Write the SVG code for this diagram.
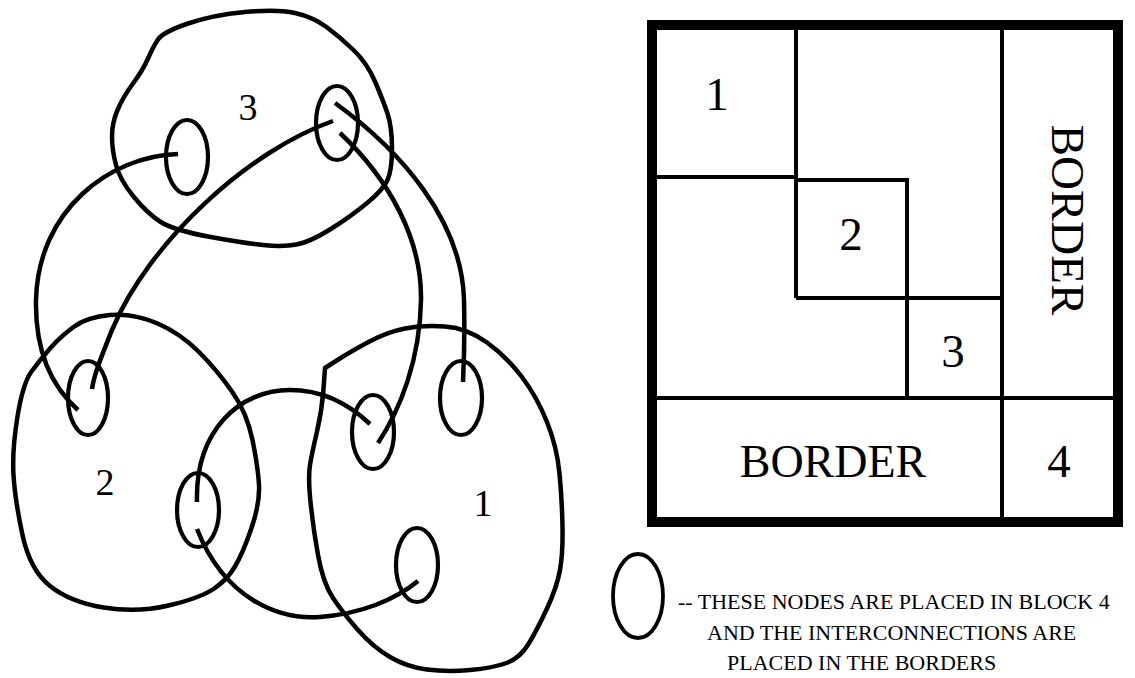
<svg xmlns="http://www.w3.org/2000/svg" width="1135" height="678" viewBox="0 0 1135 678">
<style>
.ln{fill:none;stroke:#000;stroke-width:4.5;stroke-linejoin:round}
.nd{fill:none;stroke:#000;stroke-width:4.2}
.gl{fill:none;stroke:#000;stroke-width:4}
.t{font-family:"Liberation Serif","Times New Roman",serif;fill:#000}
</style>
<rect width="1135" height="678" fill="#fff"/>
<g id="cluster3">
<path class="ln" d="M188,23.5 Q213,15 245,12 Q277,9 295,13 Q313,17 326.5,27 Q340,37 353.5,50 Q367,63 375,81.5 Q383,100 387.5,113.5 Q392,127 392,148.5 Q392,170 387.5,180 Q383,190 366.5,203.5 Q350,217 330,229.5 Q310,242 296.5,244.5 Q283,247 263,245 Q243,243 208,236.5 Q173,230 160,221.5 Q147,213 133.5,196.5 Q120,180 116,165 Q112,150 112,136.5 Q112,123 117.5,110 Q123,97 133,83.5 Q143,70 148,58.5 Q153,47 158,39.5 Q163,32 188,23.5 Z"/>
<text class="t" x="248" y="120" font-size="38" text-anchor="middle">3</text>
</g>
<g id="cluster2">
<path class="ln" d="M110,315 Q133,313 156.5,323 Q180,333 198.5,351.5 Q217,370 232,391.5 Q247,413 252.5,440 Q258,467 259,485 Q260,503 251.5,528 Q243,553 235,566.5 Q227,580 213.5,589 Q200,598 168.5,605.5 Q137,613 103.5,607.5 Q70,602 50,586 Q30,570 22.5,535 Q15,500 13.5,475 Q12,450 17.5,416.5 Q23,383 31.5,371.5 Q40,360 50,348.5 Q60,337 73.5,327 Q87,317 110,315 Z"/>
<text class="t" x="105" y="495" font-size="38" text-anchor="middle">2</text>
</g>
<g id="cluster1">
<path class="ln" d="M325,368 L337.5,360 Q350,352 368.5,342 Q387,332 405,328.5 Q423,325 445,326.5 Q467,328 487,342.5 Q507,357 522,377 Q537,397 547,422 Q557,447 559.5,473.5 Q562,500 562.5,526.5 Q563,553 560,570 Q557,587 547,608.5 Q537,630 528.5,644 Q520,658 506.5,663 Q493,668 470,670 Q447,672 427,669.5 Q407,667 390,657 Q373,647 358,630 Q343,613 333,598 Q323,583 318,555 Q313,527 310.5,502 Q308,477 310,465 Q312,453 317,431.5 Q322,410 323.5,389 Z"/>
<text class="t" x="483" y="516" font-size="38" text-anchor="middle">1</text>
</g>
<g id="node-3a"><ellipse class="nd" cx="187" cy="157" rx="21" ry="37"/></g>
<g id="node-3b"><ellipse class="nd" cx="337" cy="123" rx="21" ry="37"/></g>
<g id="node-2a"><ellipse class="nd" cx="88" cy="398" rx="20" ry="37"/></g>
<g id="node-2b"><ellipse class="nd" cx="198" cy="510" rx="21" ry="37"/></g>
<g id="node-1a"><ellipse class="nd" cx="373" cy="432" rx="21" ry="37"/></g>
<g id="node-1b"><ellipse class="nd" cx="461" cy="398" rx="21" ry="37"/></g>
<g id="node-1c"><ellipse class="nd" cx="417" cy="565" rx="21" ry="37"/></g>
<g id="connectors">
<path class="ln" d="M178,154 C110,156 38,210 36,300 C35,350 50,385 78,410"/>
<path class="ln" d="M333,121 C250,150 150,240 112,330 C100,360 94,375 92,389"/>
<path class="ln" d="M340,133 C390,180 422,240 421,300 C420,360 400,410 378,443"/>
<path class="ln" d="M335,103 C400,150 462,220 464,300 C465,340 464,360 463,382"/>
<path class="ln" d="M197,502 C195,430 240,390 290,390 C325,390 350,405 370,424"/>
<path class="ln" d="M197,529 C225,600 280,620 320,617 C360,614 395,600 418,581"/>
</g>
<g id="block-grid">
<rect x="652" y="25" width="466" height="497" fill="none" stroke="#000" stroke-width="10"/>
<path class="gl" d="M796,30 V298 M657,177 H796 M796,180 H907 V398 M796,298 H1002 M1002,30 V518 M657,398 H1113"/>
</g>
<g id="block-1"><text class="t" x="717" y="110" font-size="47" text-anchor="middle">1</text></g>
<g id="block-2"><text class="t" x="851" y="250" font-size="47" text-anchor="middle">2</text></g>
<g id="block-3"><text class="t" x="953" y="367" font-size="47" text-anchor="middle">3</text></g>
<g id="block-4"><text class="t" x="1059" y="477" font-size="47" text-anchor="middle">4</text></g>
<g id="border-bottom"><text class="t" x="833" y="477" font-size="46" text-anchor="middle">BORDER</text></g>
<g id="border-right"><text class="t" transform="translate(1052,220) rotate(90)" font-size="47" text-anchor="middle">BORDER</text></g>
<g id="legend">
<ellipse cx="638" cy="596" rx="25" ry="42" fill="none" stroke="#000" stroke-width="3.8"/>
<text class="t" font-size="22"><tspan x="678" y="609">-- THESE NODES ARE PLACED IN BLOCK 4</tspan><tspan x="707" y="640">AND THE INTERCONNECTIONS ARE</tspan><tspan x="727" y="670">PLACED IN THE BORDERS</tspan></text>
</g>
</svg>
